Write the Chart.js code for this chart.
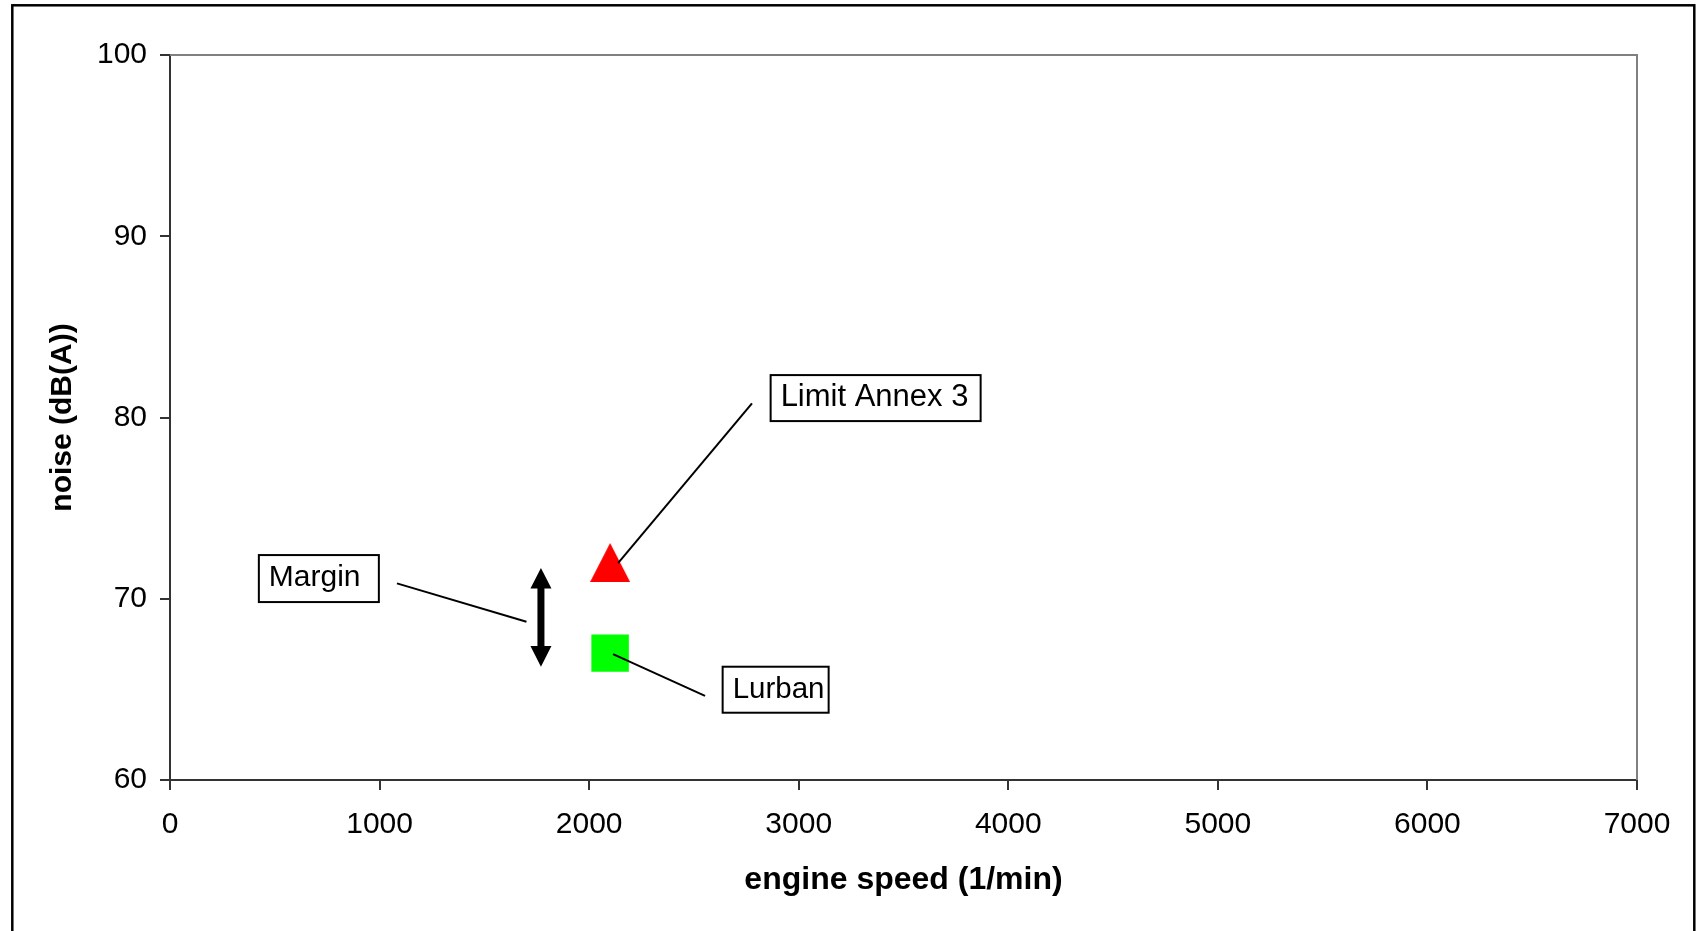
<!DOCTYPE html>
<html>
<head>
<meta charset="utf-8">
<script src="https://cdn.jsdelivr.net/npm/chart.js@4/dist/chart.umd.min.js"></script>
<style>
  html, body { margin: 0; padding: 0; background: #fff; }
  #wrap { width: 1697px; height: 931px; }
</style>
</head>
<body>
<div id="wrap"><canvas id="c" width="1697" height="931"></canvas></div>
<script>
// ---- data ----
const xTickValues = [0, 1000, 2000, 3000, 4000, 5000, 6000, 7000];
const yTickValues = [60, 70, 80, 90, 100];
const xAxisTitle = 'engine speed (1/min)';
const yAxisTitle = 'noise (dB(A))';

const limitSpeed = [2100];
const limitNoise = [72];
const lurbanSpeed = [2100];
const lurbanNoise = [67];
const marginSpeed = [1770];
const marginNoise = [71.7, 66.25];   // arrow tip values (top, bottom)

const calloutTexts = ['Limit Annex 3', 'Margin', 'Lurban'];

// ---- callout layout (data coordinates for anchors, px for box sizes) ----
const callouts = [
  { text: calloutTexts[0], boxX: 2866, boxY: 82.34, w: 210, h: 46, size: 31, from: [2777, 80.78], to: [2138, 71.96] },
  { text: calloutTexts[1], boxX: 424,  boxY: 72.41, w: 120, h: 47, size: 30, from: [1083, 70.85], to: [1701, 68.73] },
  { text: calloutTexts[2], boxX: 2637, boxY: 66.25, w: 106, h: 46, size: 29.5, from: [2114, 66.94], to: [2553, 64.64] }
];

const FONT = "'Liberation Sans', Arial, Helvetica, sans-serif";

function makeTriangle(w, h, color) {
  const c = document.createElement('canvas');
  c.width = w; c.height = h;
  const g = c.getContext('2d');
  g.fillStyle = color;
  g.beginPath();
  g.moveTo(w / 2, 0);
  g.lineTo(w, h);
  g.lineTo(0, h);
  g.closePath();
  g.fill();
  return c;
}
const triImg = makeTriangle(40, 39, '#FF0000');

const bgFrame = {
  id: 'bgFrame',
  beforeDraw(chart) {
    const ctx = chart.ctx;
    ctx.save();
    ctx.fillStyle = '#fff';
    ctx.fillRect(0, 0, chart.width, chart.height);
    ctx.strokeStyle = '#000';
    ctx.lineWidth = 2.5;
    ctx.strokeRect(12.3, 5.3, 1694.3 - 12.3, 1000);
    ctx.restore();
  },
  beforeDatasetsDraw(chart) {
    const a = chart.chartArea, ctx = chart.ctx;
    ctx.save();
    ctx.strokeStyle = '#808080';
    ctx.lineWidth = 2;
    ctx.beginPath();
    ctx.moveTo(a.left, a.top);
    ctx.lineTo(a.right, a.top);
    ctx.lineTo(a.right, a.bottom);
    ctx.stroke();
    ctx.restore();
  }
};

const annot = {
  id: 'annot',
  afterDatasetsDraw(chart) {
    const ctx = chart.ctx;
    const xs = chart.scales.x, ys = chart.scales.y;
    ctx.save();
    // margin arrow
    const ax = xs.getPixelForValue(marginSpeed[0]);
    const yTop = ys.getPixelForValue(marginNoise[0]);
    const yBot = ys.getPixelForValue(marginNoise[1]);
    const headH = 20.6, headW = 21, shaftW = 7;
    ctx.fillStyle = '#000';
    ctx.beginPath();
    ctx.moveTo(ax, yTop);
    ctx.lineTo(ax + headW / 2, yTop + headH);
    ctx.lineTo(ax + shaftW / 2, yTop + headH);
    ctx.lineTo(ax + shaftW / 2, yBot - headH);
    ctx.lineTo(ax + headW / 2, yBot - headH);
    ctx.lineTo(ax, yBot);
    ctx.lineTo(ax - headW / 2, yBot - headH);
    ctx.lineTo(ax - shaftW / 2, yBot - headH);
    ctx.lineTo(ax - shaftW / 2, yTop + headH);
    ctx.lineTo(ax - headW / 2, yTop + headH);
    ctx.closePath();
    ctx.fill();

    // callouts
    ctx.textBaseline = 'alphabetic';
    ctx.textAlign = 'left';
    callouts.forEach(c => {
      ctx.strokeStyle = '#000';
      ctx.lineWidth = 2;
      ctx.beginPath();
      ctx.moveTo(xs.getPixelForValue(c.from[0]), ys.getPixelForValue(c.from[1]));
      ctx.lineTo(xs.getPixelForValue(c.to[0]), ys.getPixelForValue(c.to[1]));
      ctx.stroke();
      const bx = xs.getPixelForValue(c.boxX), by = ys.getPixelForValue(c.boxY);
      ctx.fillStyle = '#fff';
      ctx.fillRect(bx, by, c.w, c.h);
      ctx.lineWidth = 2;
      ctx.strokeRect(bx, by, c.w, c.h);
      ctx.fillStyle = '#000';
      ctx.font = c.size + 'px ' + FONT;
      ctx.fillText(c.text, bx + 10, by + 31);
    });
    ctx.restore();
  }
};

new Chart(document.getElementById('c'), {
  type: 'scatter',
  data: {
    datasets: [
      {
        label: calloutTexts[0],
        data: limitSpeed.map((x, i) => ({ x, y: limitNoise[i] })),
        pointStyle: triImg,
        pointRadius: 20,
        backgroundColor: '#FF0000',
        borderWidth: 0
      },
      {
        label: calloutTexts[2],
        data: lurbanSpeed.map((x, i) => ({ x, y: lurbanNoise[i] })),
        pointStyle: 'rect',
        pointRadius: 26.5,
        backgroundColor: '#00FF00',
        borderColor: '#00FF00',
        borderWidth: 0
      }
    ]
  },
  options: {
    responsive: false,
    animation: false,
    devicePixelRatio: 1,
    layout: { padding: { left: 0, top: 55, right: 60, bottom: 0 } },
    plugins: { legend: { display: false }, tooltip: { enabled: false } },
    scales: {
      x: {
        type: 'linear',
        min: xTickValues[0],
        max: xTickValues[xTickValues.length - 1],
        afterBuildTicks: s => { s.ticks = xTickValues.map(v => ({ value: v })); },
        afterFit: s => { s.height = 151; },
        ticks: { color: '#000', font: { family: FONT, size: 30 }, padding: 17, maxRotation: 0, autoSkip: false, callback: v => String(v) },
        grid: { drawOnChartArea: false, drawTicks: true, tickLength: 10, color: '#333', lineWidth: 2 },
        border: { color: '#333', width: 2 },
        title: { display: true, text: xAxisTitle, color: '#000', font: { family: FONT, size: 32, weight: 'bold' }, padding: { top: 0, bottom: 32 } }
      },
      y: {
        type: 'linear',
        min: yTickValues[0],
        max: yTickValues[yTickValues.length - 1],
        afterBuildTicks: s => { s.ticks = yTickValues.map(v => ({ value: v })); },
        afterFit: s => { s.width = 170; },
        ticks: { color: '#000', font: { family: FONT, size: 30 }, padding: 13, autoSkip: false, callback: v => String(v) },
        grid: { drawOnChartArea: false, drawTicks: true, tickLength: 10, color: '#333', lineWidth: 2 },
        border: { color: '#333', width: 2 },
        title: { display: true, text: yAxisTitle, color: '#000', font: { family: FONT, size: 30, weight: 'bold' }, padding: { top: 45, bottom: 0 } }
      }
    }
  },
  plugins: [bgFrame, annot]
});
</script>
</body>
</html>
